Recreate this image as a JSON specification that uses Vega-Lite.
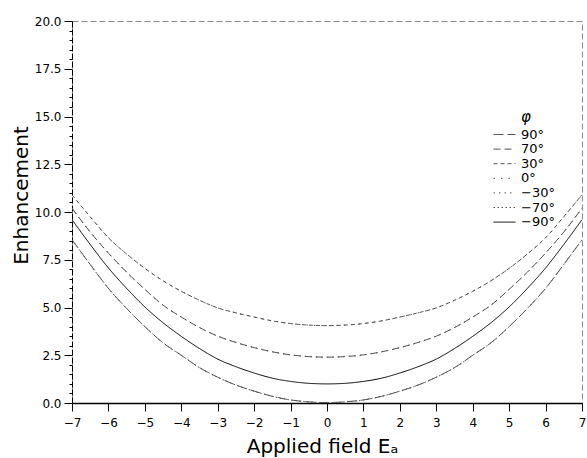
{
  "$schema": "https://vega.github.io/schema/vega-lite/v6.json",
  "width": 510,
  "height": 382,
  "autosize": {"type": "none"},
  "padding": {"left": 72, "top": 21, "right": 5, "bottom": 55},
  "background": "white",
  "config": {
    "font": "DejaVu Sans",
    "view": {"stroke": "#888888", "strokeDash": [6, 3], "strokeWidth": 1}
  },
  "data": {
    "values": [
      {"x": -7, "90°": 8.55, "70°": 10.2, "30°": 10.9, "0°": 10.9, "−30°": 10.2, "−70°": 8.55, "−90°": 9.6},
      {"x": -6.5, "90°": 7.25, "70°": 8.95, "30°": 9.75, "0°": 9.75, "−30°": 8.95, "−70°": 7.25, "−90°": 8.3},
      {"x": -6, "90°": 6.0, "70°": 7.85, "30°": 8.65, "0°": 8.65, "−30°": 7.85, "−70°": 6.0, "−90°": 7.07},
      {"x": -5.5, "90°": 4.95, "70°": 6.85, "30°": 7.8, "0°": 7.8, "−30°": 6.85, "−70°": 4.95, "−90°": 6.0},
      {"x": -5, "90°": 4.0, "70°": 5.95, "30°": 7.05, "0°": 7.05, "−30°": 5.95, "−70°": 4.0, "−90°": 5.03},
      {"x": -4.5, "90°": 3.15, "70°": 5.12, "30°": 6.4, "0°": 6.4, "−30°": 5.12, "−70°": 3.15, "−90°": 4.2},
      {"x": -4, "90°": 2.5, "70°": 4.5, "30°": 5.85, "0°": 5.85, "−30°": 4.5, "−70°": 2.5, "−90°": 3.49},
      {"x": -3.5, "90°": 1.85, "70°": 3.95, "30°": 5.38, "0°": 5.38, "−30°": 3.95, "−70°": 1.85, "−90°": 2.85},
      {"x": -3, "90°": 1.35, "70°": 3.5, "30°": 4.98, "0°": 4.98, "−30°": 3.5, "−70°": 1.35, "−90°": 2.3},
      {"x": -2.5, "90°": 0.94, "70°": 3.17, "30°": 4.72, "0°": 4.72, "−30°": 3.17, "−70°": 0.94, "−90°": 1.9},
      {"x": -2, "90°": 0.62, "70°": 2.9, "30°": 4.5, "0°": 4.5, "−30°": 2.9, "−70°": 0.62, "−90°": 1.57},
      {"x": -1.5, "90°": 0.35, "70°": 2.68, "30°": 4.3, "0°": 4.3, "−30°": 2.68, "−70°": 0.35, "−90°": 1.3},
      {"x": -1, "90°": 0.16, "70°": 2.52, "30°": 4.16, "0°": 4.16, "−30°": 2.52, "−70°": 0.16, "−90°": 1.13},
      {"x": -0.5, "90°": 0.06, "70°": 2.43, "30°": 4.08, "0°": 4.08, "−30°": 2.43, "−70°": 0.06, "−90°": 1.03},
      {"x": 0, "90°": 0.02, "70°": 2.4, "30°": 4.05, "0°": 4.05, "−30°": 2.4, "−70°": 0.02, "−90°": 1.0},
      {"x": 0.5, "90°": 0.06, "70°": 2.43, "30°": 4.08, "0°": 4.08, "−30°": 2.43, "−70°": 0.06, "−90°": 1.03},
      {"x": 1, "90°": 0.16, "70°": 2.52, "30°": 4.16, "0°": 4.16, "−30°": 2.52, "−70°": 0.16, "−90°": 1.13},
      {"x": 1.5, "90°": 0.35, "70°": 2.68, "30°": 4.3, "0°": 4.3, "−30°": 2.68, "−70°": 0.35, "−90°": 1.3},
      {"x": 2, "90°": 0.62, "70°": 2.9, "30°": 4.5, "0°": 4.5, "−30°": 2.9, "−70°": 0.62, "−90°": 1.57},
      {"x": 2.5, "90°": 0.94, "70°": 3.17, "30°": 4.72, "0°": 4.72, "−30°": 3.17, "−70°": 0.94, "−90°": 1.9},
      {"x": 3, "90°": 1.35, "70°": 3.5, "30°": 4.98, "0°": 4.98, "−30°": 3.5, "−70°": 1.35, "−90°": 2.3},
      {"x": 3.5, "90°": 1.85, "70°": 3.95, "30°": 5.38, "0°": 5.38, "−30°": 3.95, "−70°": 1.85, "−90°": 2.85},
      {"x": 4, "90°": 2.5, "70°": 4.5, "30°": 5.85, "0°": 5.85, "−30°": 4.5, "−70°": 2.5, "−90°": 3.49},
      {"x": 4.5, "90°": 3.15, "70°": 5.12, "30°": 6.4, "0°": 6.4, "−30°": 5.12, "−70°": 3.15, "−90°": 4.2},
      {"x": 5, "90°": 4.0, "70°": 5.95, "30°": 7.05, "0°": 7.05, "−30°": 5.95, "−70°": 4.0, "−90°": 5.03},
      {"x": 5.5, "90°": 4.95, "70°": 6.85, "30°": 7.8, "0°": 7.8, "−30°": 6.85, "−70°": 4.95, "−90°": 6.0},
      {"x": 6, "90°": 6.0, "70°": 7.85, "30°": 8.65, "0°": 8.65, "−30°": 7.85, "−70°": 6.0, "−90°": 7.07},
      {"x": 6.5, "90°": 7.25, "70°": 8.95, "30°": 9.75, "0°": 9.75, "−30°": 8.95, "−70°": 7.25, "−90°": 8.3},
      {"x": 7, "90°": 8.55, "70°": 10.2, "30°": 10.9, "0°": 10.9, "−30°": 10.2, "−70°": 8.55, "−90°": 9.6}
    ]
  },
  "transform": [
    {"fold": ["90°", "70°", "30°", "0°", "−30°", "−70°", "−90°"], "as": ["phi", "value"]}
  ],
  "mark": {"type": "line", "interpolate": "monotone", "clip": true, "strokeCap": "butt"},
  "encoding": {
    "x": {
      "field": "x",
      "type": "quantitative",
      "scale": {"domain": [-7, 7], "nice": false, "zero": false},
      "axis": {
        "values": [-7, -6.5, -6, -5.5, -5, -4.5, -4, -3.5, -3, -2.5, -2, -1.5, -1, -0.5, 0, 0.5, 1, 1.5, 2, 2.5, 3, 3.5, 4, 4.5, 5, 5.5, 6, 6.5, 7],
        "format": "d",
        "labelExpr": "datum.value % 1 === 0 ? datum.label : ''",
        "tickSize": {"condition": {"test": "datum.value % 1 === 0", "value": 8}, "value": 5},
        "tickColor": "black",
        "domainColor": "black",
        "domainWidth": 1.5,
        "grid": false,
        "labelFontSize": 12,
        "labelColor": "black",
        "labelPadding": 6,
        "labelOverlap": false,
        "labelFlush": false,
        "title": "Applied field Eₐ",
        "titleFontSize": 20,
        "titleFontWeight": "normal",
        "titleColor": "black",
        "titleX": 250,
        "titleY": 49,
        "titleBaseline": "alphabetic"
      }
    },
    "y": {
      "field": "value",
      "type": "quantitative",
      "scale": {"domain": [0, 20], "nice": false},
      "axis": {
        "values": [0, 0.5, 1, 1.5, 2, 2.5, 3, 3.5, 4, 4.5, 5, 5.5, 6, 6.5, 7, 7.5, 8, 8.5, 9, 9.5, 10, 10.5, 11, 11.5, 12, 12.5, 13, 13.5, 14, 14.5, 15, 15.5, 16, 16.5, 17, 17.5, 18, 18.5, 19, 19.5, 20],
        "format": ".1f",
        "labelExpr": "datum.value % 2.5 === 0 ? datum.label : ''",
        "tickSize": {"condition": {"test": "datum.value % 2.5 === 0", "value": 8}, "value": 3},
        "tickColor": "black",
        "domainColor": "black",
        "domainDash": [6, 2],
        "grid": false,
        "labelFontSize": 12,
        "labelColor": "black",
        "labelPadding": 3,
        "labelOverlap": false,
        "labelFlush": false,
        "title": "Enhancement",
        "titleFontSize": 20,
        "titleFontWeight": "normal",
        "titleColor": "black",
        "titleAngle": 270,
        "titleAlign": "center",
        "titleBaseline": "middle",
        "titleX": -51,
        "titleY": 174
      }
    },
    "color": {
      "field": "phi",
      "type": "nominal",
      "scale": {"domain": ["90°", "70°", "30°", "0°", "−30°", "−70°", "−90°"], "range": ["#555555", "#555555", "#555555", "#555555", "#555555", "#555555", "#000000"]},
      "legend": {
        "title": "φ",
        "orient": "none",
        "legendX": 426,
        "legendY": 89,
        "titleFontSize": 15,
        "titleFontStyle": "italic",
        "titleFontWeight": "normal",
        "titleAnchor": "middle",
        "titlePadding": 3,
        "labelFontSize": 13,
        "labelColor": "black",
        "symbolType": "M-2,0H2",
        "symbolSize": 121,
        "symbolStrokeWidth": 1.5,
        "symbolOffset": 0,
        "labelOffset": 10,
        "rowPadding": 0.6
      }
    },
    "strokeDash": {
      "field": "phi",
      "type": "nominal",
      "scale": {"domain": ["90°", "70°", "30°", "0°", "−30°", "−70°", "−90°"], "range": [[10, 4], [7, 4], [4, 3], [1.5, 6], [1.5, 4], [1.5, 2.5], [1, 0]]},
      "legend": null
    },
    "strokeWidth": {
      "field": "phi",
      "type": "nominal",
      "scale": {"domain": ["90°", "70°", "30°", "0°", "−30°", "−70°", "−90°"], "range": [1, 1, 1, 1, 1, 1, 1.6]},
      "legend": null
    }
  }
}
